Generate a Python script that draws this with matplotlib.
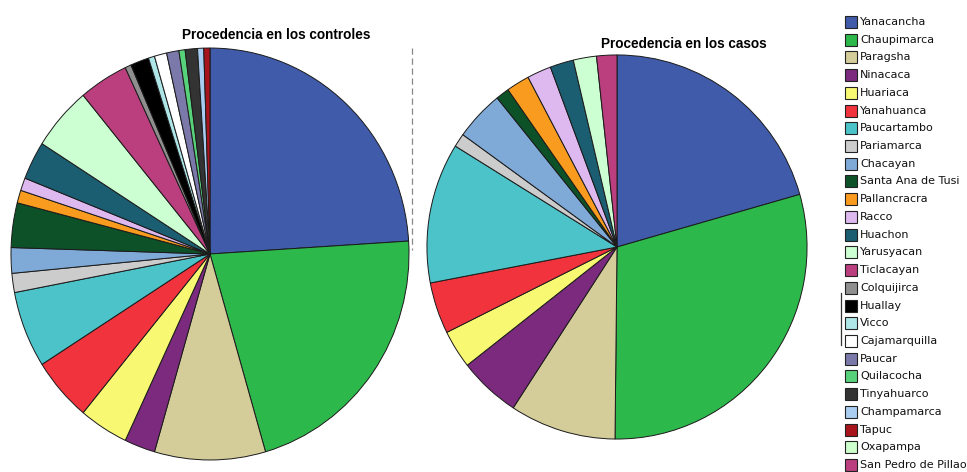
import matplotlib
matplotlib.use("Agg")
import matplotlib.pyplot as plt
from matplotlib.patches import Rectangle

categories = ["Yanacancha", "Chaupimarca", "Paragsha", "Ninacaca", "Huariaca",
              "Yanahuanca", "Paucartambo", "Pariamarca", "Chacayan",
              "Santa Ana de Tusi", "Pallancracra", "Racco", "Huachon",
              "Yarusyacan", "Ticlacayan", "Colquijirca", "Huallay", "Vicco",
              "Cajamarquilla", "Paucar", "Quilacocha", "Tinyahuarco",
              "Champamarca", "Tapuc", "Oxapampa", "San Pedro de Pillao"]

colors = ["#3F5BAA", "#2DB84B", "#D4CD99", "#7B2A7D", "#F8F873", "#F0333C",
          "#4BC3C8", "#CCCCCC", "#7FA9D6", "#0D5129", "#F99B1E", "#DDB9F0",
          "#1B5E72", "#CCFFD2", "#BB3F7E", "#8F8F8F", "#000000", "#AEE6E8",
          "#FFFFFF", "#7B79AA", "#58D27A", "#333333", "#A9CDF0", "#A8141C",
          "#CCFFCC", "#BB3F7E"]

controles = [48, 43, 18, 5, 8, 10, 12, 3, 4, 7, 2, 2, 6, 10, 8, 1, 3, 1, 2,
             2, 1, 2, 1, 1, 0, 0]

casos = [74.1, 106.5, 32.5, 18.9, 11.6, 15.6, 42.5, 4.1, 15.1, 4.1, 7.1, 7.4,
         7.2, 7.1, 6.2, 0, 0, 0, 0, 0, 0, 0, 0, 0, 0, 0]

title_controles = "Procedencia en los controles"
title_casos = "Procedencia en los casos"

W, H = 967, 472
fig = plt.figure(figsize=(W / 100, H / 100), dpi=100)

wp = dict(edgecolor="#1a1a1a", linewidth=0.7)


def draw_pie(values, cx, cy, rx, ry):
    """cx, cy: centre in pixels from top-left; rx, ry: radii in pixels."""
    pax = fig.add_axes([(cx - rx) / W, (H - cy - ry) / H,
                        2 * rx / W, 2 * ry / H])
    vals, cols = [], []
    for v, c in zip(values, colors):
        if v > 0:
            vals.append(v)
            cols.append(c)
    pax.pie(vals, colors=cols, startangle=90, counterclock=False,
            radius=1, wedgeprops=wp)
    pax.set_aspect("auto")
    pax.set_xlim(-1.005, 1.005)
    pax.set_ylim(-1.005, 1.005)
    pax.axis("off")
    return pax


draw_pie(controles, 210, 254, 200, 207)
draw_pie(casos, 617, 247, 191, 193)

ax = fig.add_axes([0, 0, 1, 1], zorder=5)
ax.set_xlim(0, W)
ax.set_ylim(0, H)
ax.axis("off")

tfont = dict(family="Liberation Sans", weight="bold", fontsize=9.8)
ax.text(276, H - 35, title_controles, ha="center", va="center", **tfont)
ax.text(684, H - 44, title_casos, ha="center", va="center", **tfont)

# dashed separator and small mark
ax.plot([412, 412], [H - 48, H - 250], color="#888888", lw=0.9,
        ls=(0, (5, 3)))
ax.plot([841, 841], [H - 293, H - 345], color="#333333", lw=0.9)

# legend
y0, dy = 22, 17.72
for i, (name, c) in enumerate(zip(categories, colors)):
    yc = H - (y0 + i * dy)
    ax.add_patch(Rectangle((845, yc - 6), 12, 12, facecolor=c,
                           edgecolor="#222222", lw=0.8))
    ax.text(860, yc, name, ha="left", va="center", family="DejaVu Sans",
            fontsize=8.0, color="#111111")

fig.savefig("out.png", dpi=100)
